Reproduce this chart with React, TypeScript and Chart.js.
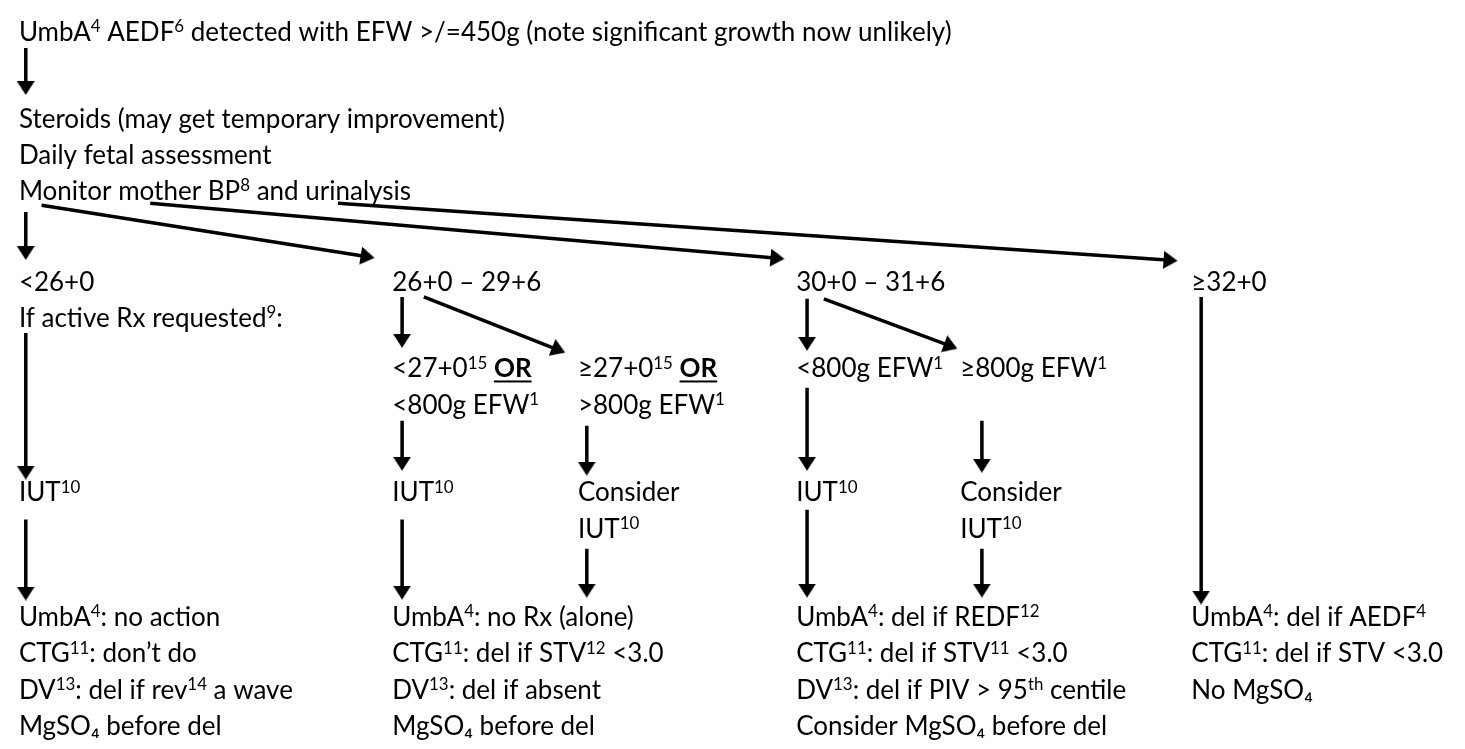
import { useEffect, useRef } from "react";
import { Chart, registerables } from "chart.js";

Chart.register(...registerables);

// ---------- content (text of the flow chart) ----------
const headerText = [
  "UmbA^{4} AEDF^{6} detected with EFW >/=450g (note significant growth now unlikely)",
];
const initialCare = [
  "Steroids (may get temporary improvement)",
  "Daily fetal assessment",
  "Monitor mother BP^{8} and urinalysis",
];
const gestationBands = ["<26+0", "26+0 – 29+6", "30+0 – 31+6", "≥32+0"];
const band1Note = ["If active Rx requested^{9}:"];
const band2Split = [
  ["<27+0^{15} *{OR}", "<800g EFW^{1}"],
  ["≥27+0^{15} *{OR}", ">800g EFW^{1}"],
];
const band3Split = [["<800g EFW^{1}"], ["≥800g EFW^{1}"]];
const iutText = ["IUT^{10}"];
const considerIut = ["Consider", "IUT^{10}"];
const actions26 = [
  "UmbA^{4}: no action",
  "CTG^{11}: don’t do",
  "DV^{13}: del if rev^{14} a wave",
  "MgSO₄ before del",
];
const actions26to29 = [
  "UmbA^{4}: no Rx (alone)",
  "CTG^{11}: del if STV^{12} <3.0",
  "DV^{13}: del if absent",
  "MgSO₄ before del",
];
const actions30to31 = [
  "UmbA^{4}: del if REDF^{12}",
  "CTG^{11}: del if STV^{11} <3.0",
  "DV^{13}: del if PIV > 95^{th} centile",
  "Consider MgSO₄ before del",
];
const actions32 = [
  "UmbA^{4}: del if AEDF^{4}",
  "CTG^{11}: del if STV <3.0",
  "No MgSO₄",
];

// ---------- layout (page coordinates, px) ----------
const W = 1465;
const H = 749;
const FONT_FAMILY = "Lato, 'Open Sans', sans-serif";
const FONT_SIZE = 26;
const LINE_H = 37;
const CAP = 0.716;

const COL = { c1: 10, c2: 388, c2b: 576, c3: 797, c3b: 963, c4: 1197 };
const ROW = { top: 23, care: 112, band: 279, split: 368, iut: 495, act: 623 };

const blocks: { lines: string[]; x: number; y: number }[] = [
  { lines: headerText, x: COL.c1, y: ROW.top },
  { lines: initialCare, x: COL.c1, y: ROW.care },
  { lines: [gestationBands[0], ...band1Note], x: COL.c1, y: ROW.band },
  { lines: [gestationBands[1]], x: COL.c2, y: ROW.band },
  { lines: [gestationBands[2]], x: COL.c3, y: ROW.band },
  { lines: [gestationBands[3]], x: COL.c4, y: ROW.band },
  { lines: band2Split[0], x: COL.c2, y: ROW.split },
  { lines: band2Split[1], x: COL.c2b, y: ROW.split },
  { lines: band3Split[0], x: COL.c3, y: ROW.split },
  { lines: band3Split[1], x: COL.c3b, y: ROW.split },
  { lines: iutText, x: COL.c1, y: ROW.iut },
  { lines: iutText, x: COL.c2, y: ROW.iut },
  { lines: considerIut, x: COL.c2b, y: ROW.iut },
  { lines: iutText, x: COL.c3, y: ROW.iut },
  { lines: considerIut, x: COL.c3b, y: ROW.iut },
  { lines: actions26, x: COL.c1, y: ROW.act },
  { lines: actions26to29, x: COL.c2, y: ROW.act },
  { lines: actions30to31, x: COL.c3, y: ROW.act },
  { lines: actions32, x: COL.c4, y: ROW.act },
];

// arrows: [x1, y1, tipX, tipY]
const arrows: [number, number, number, number][] = [
  [17, 40, 17, 88],
  [17, 208, 17, 257],
  [33, 201, 370, 255],
  [143, 199, 785, 256],
  [333, 199, 1183, 258],
  [17, 332, 17, 482],
  [17, 523, 17, 606],
  [398, 295, 398, 347],
  [420, 295, 563, 352],
  [398, 422, 398, 473],
  [585, 427, 585, 478],
  [398, 523, 398, 605],
  [585, 553, 585, 603],
  [808, 297, 808, 350],
  [825, 297, 960, 348],
  [808, 388, 808, 473],
  [985, 422, 985, 475],
  [808, 513, 808, 603],
  [985, 553, 985, 603],
  [1207, 295, 1207, 610],
];

const HEAD_W = 18;
const HEAD_L = 14;
const LINE_W = 3.5;

function makeHead(): HTMLCanvasElement {
  const c = document.createElement("canvas");
  c.width = HEAD_W;
  c.height = HEAD_L;
  const g = c.getContext("2d")!;
  g.fillStyle = "#000";
  g.beginPath();
  g.moveTo(HEAD_W / 2, 0);
  g.lineTo(HEAD_W, HEAD_L);
  g.lineTo(0, HEAD_L);
  g.closePath();
  g.fill();
  return c;
}

type Seg = { t: string; kind: "n" | "sup" | "bu" };
function parseRich(s: string): Seg[] {
  const out: Seg[] = [];
  const re = /\^\{([^}]*)\}|\*\{([^}]*)\}|[^^*]+/g;
  let m: RegExpExecArray | null;
  while ((m = re.exec(s))) {
    if (m[1] !== undefined) out.push({ t: m[1], kind: "sup" });
    else if (m[2] !== undefined) out.push({ t: m[2], kind: "bu" });
    else out.push({ t: m[0], kind: "n" });
  }
  return out;
}

function drawRich(ctx: CanvasRenderingContext2D, s: string, x: number, baseline: number) {
  let cx = x;
  ctx.textBaseline = "alphabetic";
  ctx.textAlign = "left";
  ctx.fillStyle = "#000";
  for (const seg of parseRich(s)) {
    if (seg.kind === "sup") {
      ctx.font = `${FONT_SIZE * 0.65}px ${FONT_FAMILY}`;
      ctx.fillText(seg.t, cx, baseline - FONT_SIZE * 0.34);
      cx += ctx.measureText(seg.t).width;
    } else if (seg.kind === "bu") {
      ctx.font = `bold ${FONT_SIZE}px ${FONT_FAMILY}`;
      ctx.fillText(seg.t, cx, baseline);
      const w = ctx.measureText(seg.t).width;
      ctx.fillRect(cx, baseline + 3, w, 2);
      cx += w;
    } else {
      ctx.font = `${FONT_SIZE}px ${FONT_FAMILY}`;
      ctx.fillText(seg.t, cx, baseline);
      cx += ctx.measureText(seg.t).width;
    }
  }
}

export default function App() {
  const ref = useRef<HTMLCanvasElement | null>(null);

  useEffect(() => {
    if (!ref.current) return;
    const head = makeHead();

    const datasets = arrows.map(([x1, y1, x2, y2]) => {
      const dx = x2 - x1;
      const dy = y2 - y1;
      const len = Math.hypot(dx, dy);
      const hx = x2 - (dx / len) * (HEAD_L / 2);
      const hy = y2 - (dy / len) * (HEAD_L / 2);
      const rot = (Math.atan2(dx, -dy) * 180) / Math.PI;
      return {
        data: [
          { x: x1, y: y1 },
          { x: hx, y: hy },
        ],
        showLine: true,
        borderColor: "#000",
        backgroundColor: "#000",
        borderWidth: LINE_W,
        borderCapStyle: "butt" as const,
        pointStyle: head,
        pointRadius: [0, 9],
        pointRotation: [0, rot],
        pointBorderWidth: 0,
        clip: false as const,
      };
    });

    const background = {
      id: "bg",
      beforeDraw(chart: Chart) {
        const c = chart.ctx;
        c.save();
        c.fillStyle = "#fff";
        c.fillRect(0, 0, chart.width, chart.height);
        c.restore();
      },
    };

    const textPlugin = {
      id: "flowText",
      afterDatasetsDraw(chart: Chart) {
        const c = chart.ctx;
        const xs = chart.scales.x;
        const ys = chart.scales.y;
        c.save();
        for (const b of blocks) {
          b.lines.forEach((line, i) => {
            const px = xs.getPixelForValue(b.x);
            const py = ys.getPixelForValue(b.y + i * LINE_H);
            drawRich(c, line, px, py + (FONT_SIZE * CAP) / 2);
          });
        }
        c.restore();
      },
    };

    const chart = new Chart(ref.current, {
      type: "scatter",
      data: { datasets: datasets as any },
      options: {
        responsive: false,
        animation: false,
        events: [],
        layout: { padding: 0 },
        plugins: { legend: { display: false }, tooltip: { enabled: false } },
        scales: {
          x: { type: "linear", min: 0, max: W, display: false },
          y: { type: "linear", min: 0, max: H, reverse: true, display: false },
        },
      },
      plugins: [background, textPlugin],
    });
    return () => chart.destroy();
  }, []);

  return (
    <div style={{ position: "absolute", left: 0, top: 0, width: W, height: H, background: "#fff" }}>
      <canvas ref={ref} width={W} height={H} style={{ display: "block" }} />
    </div>
  );
}
